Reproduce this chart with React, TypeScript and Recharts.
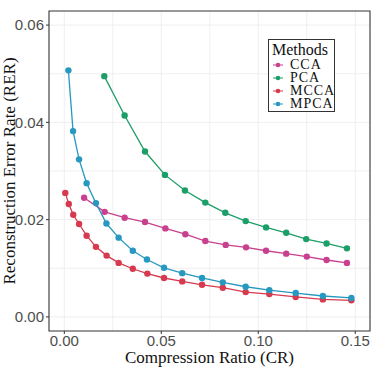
import { LineChart, Line, XAxis, YAxis, CartesianGrid, ReferenceArea, Label } from 'recharts'

const ccaX = [0.0102, 0.0208, 0.0311, 0.0416, 0.0521, 0.0624, 0.0727, 0.0832, 0.0937, 0.104, 0.1144, 0.125, 0.1352, 0.1457]
const ccaY = [0.0245, 0.0216, 0.0204, 0.0195, 0.0182, 0.017, 0.0156, 0.0148, 0.0143, 0.0136, 0.013, 0.0124, 0.0117, 0.0111]

const pcaX = [0.0206, 0.0311, 0.0416, 0.0519, 0.0622, 0.0727, 0.083, 0.0935, 0.104, 0.1144, 0.1247, 0.1352, 0.1457]
const pcaY = [0.0495, 0.0414, 0.034, 0.0292, 0.026, 0.0235, 0.0214, 0.0197, 0.0184, 0.0173, 0.016, 0.0151, 0.0141]

const mccaX = [0.0005, 0.0023, 0.0046, 0.0076, 0.0115, 0.0163, 0.0218, 0.028, 0.0353, 0.0428, 0.0514, 0.0608, 0.071, 0.0817, 0.0935, 0.1057, 0.1193, 0.1333, 0.148]
const mccaY = [0.0255, 0.0232, 0.021, 0.0191, 0.0167, 0.0144, 0.0126, 0.0111, 0.0099, 0.0089, 0.008, 0.0073, 0.0066, 0.006, 0.0051, 0.0047, 0.0041, 0.0036, 0.0034]

const mpcaX = [0.0021, 0.0045, 0.0076, 0.0115, 0.0163, 0.0217, 0.028, 0.0353, 0.0426, 0.0514, 0.0608, 0.071, 0.0817, 0.0935, 0.1057, 0.1193, 0.1333, 0.148]
const mpcaY = [0.0507, 0.0382, 0.0324, 0.0275, 0.0234, 0.0192, 0.0163, 0.0136, 0.0118, 0.0101, 0.009, 0.008, 0.0071, 0.0062, 0.0055, 0.0049, 0.0043, 0.0039]

const xTicks = [0, 0.05, 0.1, 0.15]
const yTicks = [0, 0.02, 0.04, 0.06]
const xGrid = [0, 0.025, 0.05, 0.075, 0.1, 0.125, 0.15]
const yGrid = [0, 0.01, 0.02, 0.03, 0.04, 0.05, 0.06]

const X_DOMAIN = [-0.0079, 0.1576]
const Y_DOMAIN = [-0.0029, 0.0629]

const SERIES = [
    { name: 'CCA', xs: ccaX, ys: ccaY, color: '#c9408e' },
    { name: 'PCA', xs: pcaX, ys: pcaY, color: '#1c9e68' },
    { name: 'MCCA', xs: mccaX, ys: mccaY, color: '#d73a4f' },
    { name: 'MPCA', xs: mpcaX, ys: mpcaY, color: '#2798bf' },
]

const SERIF = '"Liberation Serif", "Times New Roman", serif'
const SANS = '"Liberation Sans", Arial, sans-serif'

function toRows(xs: number[], ys: number[]) {
    return xs.map((x, i) => ({ x, y: ys[i] }))
}

// ggplot-style boxed legend, placed over the panel
function MethodsLegend() {
    return (
        <div
            style={{
                position: 'absolute',
                left: 268,
                top: 39,
                border: '1px solid #333',
                background: '#fff',
                fontFamily: SERIF,
                color: '#111',
                padding: '1px 3px 1px 3px',
                width: 67,
                boxSizing: 'border-box',
            }}
        >
            <div style={{ fontSize: 16, lineHeight: '17px' }}>Methods</div>
            {SERIES.map((s) => (
                <div key={s.name} style={{ display: 'flex', alignItems: 'center', fontSize: 14, lineHeight: '13px', height: 13 }}>
                    <svg width={14} height={10} style={{ marginRight: 4, flexShrink: 0 }}>
                        <line x1={1} y1={5} x2={11} y2={5} stroke={s.color} strokeWidth={1} />
                        <circle cx={6} cy={5} r={2.3} fill={s.color} />
                    </svg>
                    <span style={{ letterSpacing: 1 }}>{s.name}</span>
                </div>
            ))}
        </div>
    )
}

export default function App() {
    return (
        <div style={{ position: 'absolute', left: 0, top: 0, width: 374, height: 374, background: '#fff' }}>
            <LineChart width={374} height={374} margin={{ top: 11, right: 4, bottom: 0, left: 0 }}>
                <CartesianGrid stroke="#ebebeb" strokeWidth={0.8} horizontalValues={yGrid} verticalValues={xGrid} />
                <XAxis
                    type="number"
                    dataKey="x"
                    domain={X_DOMAIN}
                    allowDataOverflow
                    ticks={xTicks}
                    tickFormatter={(v: number) => v.toFixed(2)}
                    height={43}
                    axisLine={false}
                    tickSize={3}
                    tickLine={{ stroke: '#333' }}
                    tickMargin={1}
                    tick={{ fontSize: 15, fill: '#4d4d4d', fontFamily: SANS }}
                >
                    <Label
                        content={() => (
                            <text x={209.5} y={363} textAnchor="middle" fontFamily={SERIF} style={{ fontFamily: SERIF, fontSize: 17 }} fill="#111">
                                Compression Ratio (CR)
                            </text>
                        )}
                    />
                </XAxis>
                <YAxis
                    type="number"
                    dataKey="y"
                    domain={Y_DOMAIN}
                    allowDataOverflow
                    ticks={yTicks}
                    tickFormatter={(v: number) => v.toFixed(2)}
                    width={49}
                    axisLine={false}
                    tickSize={3}
                    tickLine={{ stroke: '#333' }}
                    tickMargin={2}
                    tick={{ fontSize: 15, fill: '#4d4d4d', fontFamily: SANS }}
                >
                    <Label
                        content={() => (
                            <text
                                x={0}
                                y={0}
                                transform="translate(15, 171) rotate(-90)"
                                textAnchor="middle"
                                fontFamily={SERIF}
                                style={{ fontFamily: SERIF, fontSize: 17 }}
                                fill="#111"
                            >
                                Reconstruction Error Rate (RER)
                            </text>
                        )}
                    />
                </YAxis>
                <ReferenceArea
                    x1={X_DOMAIN[0]}
                    x2={X_DOMAIN[1]}
                    y1={Y_DOMAIN[0]}
                    y2={Y_DOMAIN[1]}
                    fill="none"
                    stroke="#333"
                    strokeWidth={1.1}
                    ifOverflow="visible"
                />
                {SERIES.map((s) => (
                    <Line
                        key={s.name}
                        name={s.name}
                        data={toRows(s.xs, s.ys)}
                        dataKey="y"
                        stroke={s.color}
                        strokeWidth={1.3}
                        dot={{ r: 3.2, fill: s.color, stroke: s.color, strokeWidth: 0 }}
                        activeDot={false}
                        isAnimationActive={false}
                        type="linear"
                    />
                ))}
            </LineChart>
            <MethodsLegend />
        </div>
    )
}
